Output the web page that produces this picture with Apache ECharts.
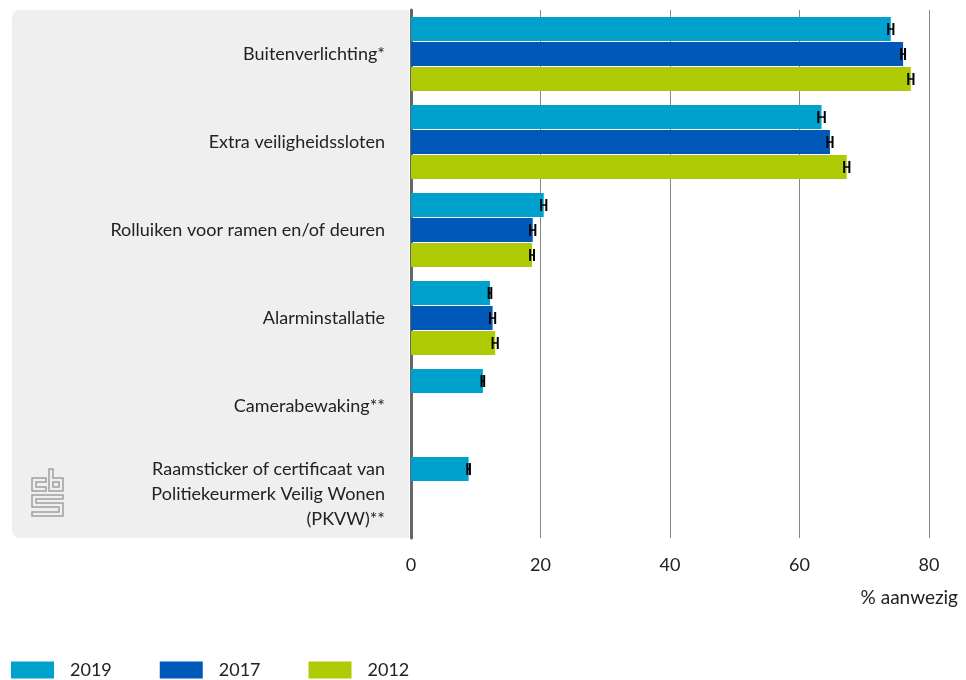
<!DOCTYPE html>
<html>
<head>
<meta charset="utf-8">
<script src="https://cdn.jsdelivr.net/npm/echarts@6/dist/echarts.min.js"></script>
<style>
  html, body { margin: 0; padding: 0; background: #fff; }
  #chart { width: 966px; height: 680px; }
</style>
</head>
<body>
<div id="chart"></div>
<script>
// categories (top to bottom)
var categories = [
  "Buitenverlichting*",
  "Extra veiligheidssloten",
  "Rolluiken voor ramen en/of deuren",
  "Alarminstallatie",
  "Camerabewaking**",
  "Raamsticker of certificaat van\nPolitiekeurmerk Veilig Wonen\n(PKVW)**"
];
var years = ["2019", "2017", "2012"];

// % aanwezig
var values2019 = [74.1, 63.4, 20.5, 12.2, 11.1, 8.9];
var values2017 = [76.0, 64.7, 18.8, 12.6, null, null];
var values2012 = [77.2, 67.3, 18.7, 13.0, null, null];

// halve breedte van de foutmarge
var margin2019 = [0.4, 0.5, 0.4, 0.2, 0.2, 0.2];
var margin2017 = [0.3, 0.4, 0.4, 0.4, null, null];
var margin2012 = [0.4, 0.4, 0.3, 0.4, null, null];

var xTicks = [0, 20, 40, 60, 80];

var colors = ["#00a1cd", "#0058b8", "#afcb05"];
var BAR_W = 24;
var BAR_GAP = 0.04; // fraction of bar width

function errData(vals, margins) {
  var list = [];
  for (var i = 0; i < vals.length; i++) {
    if (vals[i] == null) continue;
    list.push([i, vals[i] - margins[i], vals[i] + margins[i]]);
  }
  return list;
}

function errRender(slot) {
  var offset = (slot - 1) * BAR_W * (1 + BAR_GAP);
  return function (params, api) {
    var cat = api.value(0);
    var p1 = api.coord([api.value(1), cat]);
    var p2 = api.coord([api.value(2), cat]);
    var y = p1[1] + offset;
    var h = 6;
    var st = { stroke: "#000", lineWidth: 2 };
    return {
      type: "group",
      children: [
        { type: "line", shape: { x1: p1[0], y1: y, x2: p2[0], y2: y }, style: { stroke: "#000", lineWidth: 1.5 } },
        { type: "line", shape: { x1: p1[0], y1: y - h, x2: p1[0], y2: y + h }, style: st },
        { type: "line", shape: { x1: p2[0], y1: y - h, x2: p2[0], y2: y + h }, style: st }
      ]
    };
  };
}

var FONT = "Lato";
var chart = echarts.init(document.getElementById("chart"));

var barSeries = [values2019, values2017, values2012].map(function (vals, i) {
  return {
    name: years[i],
    type: "bar",
    data: vals,
    barWidth: BAR_W,
    barGap: BAR_GAP * 100 + "%",
    itemStyle: { color: colors[i] },
    z: 3
  };
});

var errSeries = [[values2019, margin2019], [values2017, margin2017], [values2012, margin2012]].map(function (d, i) {
  return {
    type: "custom",
    name: "err" + years[i],
    renderItem: errRender(i),
    encode: { x: [1, 2], y: 0 },
    data: errData(d[0], d[1]),
    z: 5,
    silent: true
  };
});

var option = {
  animation: false,
  textStyle: { fontFamily: FONT },
  grid: { left: 411, right: 37, top: 10, bottom: 142, containLabel: false },
  graphic: [
    {
      type: "rect",
      z: -10,
      shape: { x: 12, y: 10, width: 397, height: 528, r: [8, 0, 0, 8] },
      style: { fill: "#efefef" }
    },
    {
      // cbs logo
      type: "group",
      x: 32,
      y: 469,
      children: [
        { type: "polygon", shape: { points: [[14, 9], [0, 9], [0, 22], [14, 22], [14, 18], [4, 18], [4, 13], [14, 13]] }, style: { fill: "none", stroke: "#a0a0a0", lineWidth: 1.5 } },
        { type: "polygon", shape: { points: [[17, 0], [21, 0], [21, 9], [31, 9], [31, 22], [17, 22]] }, style: { fill: "none", stroke: "#a0a0a0", lineWidth: 1.5 } },
        { type: "rect", shape: { x: 21, y: 13, width: 6, height: 5 }, style: { fill: "none", stroke: "#a0a0a0", lineWidth: 1.5 } },
        { type: "polygon", shape: { points: [[0, 26], [31, 26], [31, 30], [4, 30], [4, 34], [31, 34], [31, 47], [0, 47], [0, 43], [27, 43], [27, 38], [0, 38]] }, style: { fill: "none", stroke: "#a0a0a0", lineWidth: 1.5 } }
      ]
    },
    {
      type: "text",
      right: 8,
      top: 588,
      style: { text: "% aanwezig", fill: "#222", font: "19px " + FONT }
    }
  ],
  legend: {
    left: 6,
    top: 656,
    data: years,
    icon: "rect",
    itemWidth: 43,
    itemHeight: 17,
    itemGap: 48,
    textStyle: { fontSize: 18, color: "#222", padding: [0, 0, 0, 11] }
  },
  xAxis: {
    type: "value",
    min: xTicks[0],
    max: xTicks[xTicks.length - 1],
    interval: 20,
    axisLine: { show: false },
    axisTick: { show: false },
    axisLabel: { color: "#222", fontSize: 18, margin: 18 },
    splitLine: { lineStyle: { color: "#888", width: 1 } }
  },
  yAxis: {
    type: "category",
    inverse: true,
    data: categories,
    axisLine: { show: true, lineStyle: { color: "#666", width: 3 } },
    axisTick: { show: false },
    axisLabel: { color: "#222", fontSize: 18, margin: 26, lineHeight: 25, align: "right" }
  },
  series: barSeries.concat(errSeries)
};

chart.setOption(option);
</script>
</body>
</html>
